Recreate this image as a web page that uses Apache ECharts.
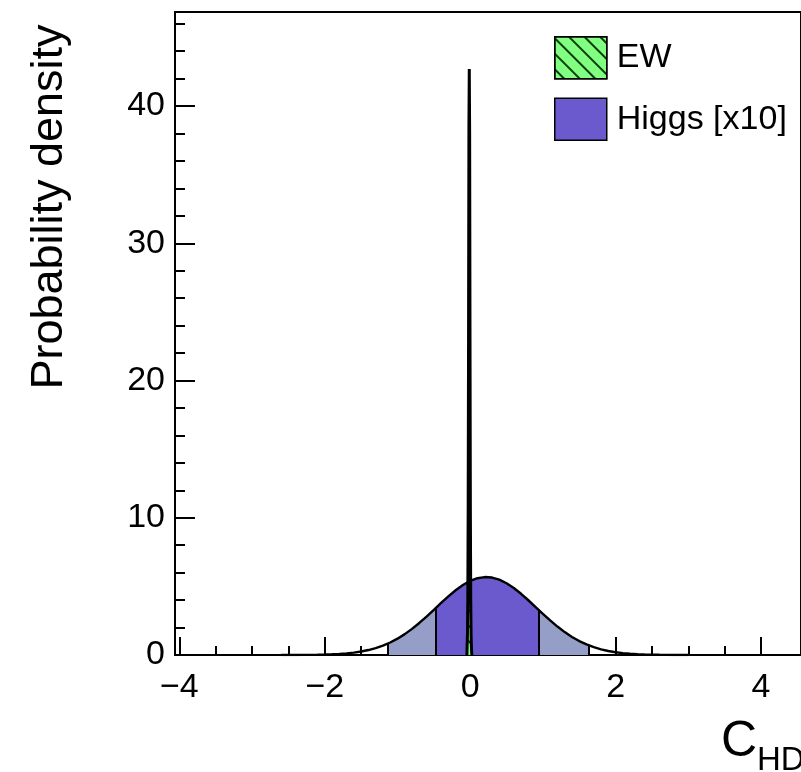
<!DOCTYPE html>
<html>
<head>
<meta charset="utf-8">
<script src="https://cdn.jsdelivr.net/npm/echarts@6/dist/echarts.min.js"></script>
<style>html,body{margin:0;padding:0;background:#fff;}#c{width:801px;height:772px;}</style>
</head>
<body>
<div id="c"></div>
<script>
// ---- data ----
const xMajorTicks = [-4, -2, 0, 2, 4];
const xMinorTicks = [-3.5, -3, -2.5, -1.5, -1, -0.5, 0.5, 1, 1.5, 2.5, 3, 3.5];
const yMajorTicks = [0, 10, 20, 30, 40];
const yMinorTicks = [2, 4, 6, 8, 12, 14, 16, 18, 22, 24, 26, 28, 32, 34, 36, 38, 42, 44, 46];

// Higgs [x10] posterior density
const higgsX = [-2.6,-2.5,-2.4,-2.3,-2.2,-2.1,-2.0,-1.9,-1.8,-1.7,-1.6,-1.5,-1.4,-1.3,-1.2,-1.1,-1.0,-0.9,-0.8,-0.7,-0.6,-0.5,-0.4,-0.3,-0.2,-0.1,0.0,0.1,0.2,0.3,0.4,0.5,0.6,0.7,0.8,0.9,1.0,1.1,1.2,1.3,1.4,1.5,1.6,1.7,1.8,1.9,2.0,2.1,2.2,2.3,2.4,2.5,2.6,2.7,2.8,2.9,3.0];
const higgsY = [0.0013,0.0024,0.0042,0.0072,0.0121,0.0199,0.0321,0.0506,0.0782,0.118,0.175,0.254,0.361,0.502,0.683,0.911,1.190,1.522,1.904,2.334,2.803,3.295,3.793,4.276,4.720,5.101,5.399,5.595,5.678,5.642,5.490,5.231,4.881,4.459,3.989,3.495,2.998,2.518,2.071,1.668,1.315,1.016,0.769,0.569,0.413,0.293,0.204,0.139,0.0925,0.0604,0.0386,0.0241,0.0148,0.0089,0.0052,0.0030,0.0017];
// credible interval edges (95% outer, 68% inner) and curve height there
const bandEdges = [-1.14, -0.47, 0.94, 1.63];
const edgeHeights = [0.80, 3.40, 3.30, 0.72];

// EW posterior density (narrow histogram)
const ewX = [-0.045,-0.04,-0.035,-0.03,-0.025,-0.02,-0.015,-0.01,-0.005,0.0,0.005,0.01,0.015,0.02,0.025];
const ewY = [0, 0.6, 1.5, 4.2, 11, 23, 38.3, 42.7, 38.0, 23, 10.5, 4, 1.4, 0.5, 0];

const seriesNames = ['EW', 'Higgs [x10]'];

// ---- chart ----
const FONT = '"Liberation Sans", Arial, Helvetica, sans-serif';
const X_MIN = -4.06, X_MAX = 4.55, Y_MIN = 0, Y_MAX = 46.85;
const DARK = '#6a5acd', LIGHT = '#959ec6', GREEN = '#80ff80';
const HATCH = {symbol: 'rect', symbolSize: 1, color: '#0b3d0b', dashArrayX: [1, 0], dashArrayY: [1.6, 9], rotation: Math.PI / 4};

const higgsData = higgsX.map((x, i) => [x, higgsY[i]]);
const ewData = ewX.map((x, i) => [x, ewY[i]]);

const chart = echarts.init(document.getElementById('c'), null, {renderer: 'canvas'});
const minus = v => (v < 0 ? '\u2212' + (-v) : String(v));

const option = {
  animation: false,
  backgroundColor: '#fff',
  grid: {left: 175, top: 12, width: (X_MAX - X_MIN) * 73.15, height: 643, show: true,
         borderColor: '#000', borderWidth: 2, backgroundColor: 'transparent'},
  xAxis: [
    {type: 'value', min: X_MIN, max: X_MAX, position: 'bottom',
     axisLine: {show: true, onZero: false, lineStyle: {color: '#000', width: 2}},
     axisTick: {show: true, inside: true, length: 18, lineStyle: {color: '#000', width: 2}, customValues: xMajorTicks},
     axisLabel: {show: true, customValues: xMajorTicks, formatter: minus, margin: 16,
                 fontFamily: FONT, fontSize: 34, color: '#000'},
     splitLine: {show: false}},
    {type: 'value', min: X_MIN, max: X_MAX, position: 'bottom',
     axisLine: {show: false, onZero: false},
     axisTick: {show: true, inside: true, length: 9, lineStyle: {color: '#000', width: 2}, customValues: xMinorTicks},
     axisLabel: {show: false}, splitLine: {show: false}}
  ],
  yAxis: [
    {type: 'value', min: Y_MIN, max: Y_MAX, position: 'left',
     axisLine: {show: true, onZero: false, lineStyle: {color: '#000', width: 2}},
     axisTick: {show: true, inside: true, length: 20, lineStyle: {color: '#000', width: 2}, customValues: yMajorTicks},
     axisLabel: {show: true, customValues: yMajorTicks, margin: 10,
                 fontFamily: FONT, fontSize: 34, color: '#000'},
     splitLine: {show: false}},
    {type: 'value', min: Y_MIN, max: Y_MAX, position: 'left',
     axisLine: {show: false, onZero: false},
     axisTick: {show: true, inside: true, length: 10, lineStyle: {color: '#000', width: 2}, customValues: yMinorTicks},
     axisLabel: {show: false}, splitLine: {show: false}}
  ],
  visualMap: {
    show: false, type: 'piecewise', dimension: 0, seriesIndex: 0,
    pieces: [
      {lt: bandEdges[0], color: 'rgba(255,255,255,0)'},
      {gte: bandEdges[0], lt: bandEdges[1], color: LIGHT},
      {gte: bandEdges[1], lt: bandEdges[2], color: DARK},
      {gte: bandEdges[2], lt: bandEdges[3], color: LIGHT},
      {gte: bandEdges[3], color: 'rgba(255,255,255,0)'}
    ]
  },
  legend: {
    orient: 'vertical', left: 549, top: 31, itemWidth: 52, itemHeight: 42, itemGap: 18,
    textStyle: {fontFamily: FONT, fontSize: 34, color: '#000', padding: [0, 0, 0, 5]},
    selectedMode: false,
    data: [
      {name: seriesNames[0], icon: 'rect',
       itemStyle: {color: GREEN, borderColor: '#000', borderWidth: 1.5, decal: HATCH}},
      {name: seriesNames[1], icon: 'rect',
       itemStyle: {color: DARK, borderColor: '#000', borderWidth: 1.5}}
    ]
  },
  title: [
    {text: 'C', left: 716, top: 712, textStyle: {fontFamily: FONT, fontSize: 50, fontWeight: 'normal', color: '#000'}},
    {text: 'HD', left: 752, top: 739, textStyle: {fontFamily: FONT, fontSize: 33, fontWeight: 'normal', color: '#000'}}
  ],
  graphic: [
    {type: 'text', x: 50, y: 207, rotation: Math.PI / 2,
     style: {text: 'Probability density', font: '45px ' + FONT, fill: '#000', align: 'center', verticalAlign: 'middle'}}
  ],
  series: [
    {name: seriesNames[1], type: 'line', data: higgsData, xAxisIndex: 0, yAxisIndex: 0,
     symbol: 'none', lineStyle: {width: 0}, areaStyle: {opacity: 1}, z: 1, silent: true},
    {name: 'HiggsOutline', type: 'line', data: higgsData, xAxisIndex: 0, yAxisIndex: 0,
     symbol: 'none', lineStyle: {color: '#000', width: 2.4}, itemStyle: {color: '#000'}, z: 2, silent: true,
     markLine: {symbol: 'none', silent: true, label: {show: false},
                lineStyle: {color: '#000', width: 2, type: 'solid'},
                data: bandEdges.map((x, i) => [{coord: [x, 0]}, {coord: [x, edgeHeights[i]]}])}},
    {name: seriesNames[0], type: 'line', data: ewData, xAxisIndex: 0, yAxisIndex: 0, step: 'middle',
     symbol: 'none', lineStyle: {color: '#000', width: 3}, itemStyle: {color: GREEN, decal: HATCH},
     areaStyle: {color: GREEN, opacity: 1}, z: 3, silent: true}
  ]
};
chart.setOption(option);
</script>
</body>
</html>
